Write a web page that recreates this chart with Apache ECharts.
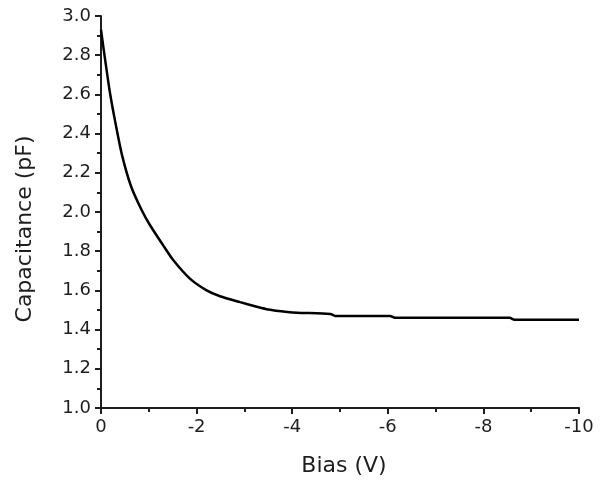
<!DOCTYPE html>
<html>
<head>
<meta charset="utf-8">
<script src="https://cdn.jsdelivr.net/npm/echarts@6/dist/echarts.min.js"></script>
<style>html,body{margin:0;padding:0;background:#fff;}#c{width:606px;height:487px;}</style>
</head>
<body>
<div id="c"></div>
<script>
var biasV = [0, -0.05, -0.18, -0.29, -0.44, -0.63, -0.85, -1.02, -1.3, -1.51, -1.86, -2.21, -2.49, -2.91, -3.26, -3.5, -3.9, -4.1, -4.8, -4.9, -6.05, -6.15, -8.55, -8.65, -10];
var capPF = [2.93, 2.84, 2.62, 2.47, 2.29, 2.13, 2.01, 1.935, 1.83, 1.755, 1.66, 1.60, 1.57, 1.54, 1.517, 1.503, 1.49, 1.486, 1.48, 1.47, 1.47, 1.46, 1.46, 1.45, 1.45];
var xLabel = 'Bias (V)';
var yLabel = 'Capacitance (pF)';

var pts = biasV.map(function(v, i){ return [v, capPF[i]]; });
var font = 'DejaVu Sans, sans-serif';
var ink = '#1e1e1e';
var chart = echarts.init(document.getElementById('c'), null, {renderer:'canvas'});
chart.setOption({
  animation: false,
  backgroundColor: '#fff',
  grid: {left: 101, right: 27, top: 16, bottom: 79},
  xAxis: {
    type: 'value', min: -10, max: 0, interval: 2, inverse: true,
    name: xLabel, nameLocation: 'middle', nameGap: 47,
    nameTextStyle: {fontFamily: font, fontSize: 22, color: ink, padding: [0, 0, 0, 8]},
    axisLine: {show: true, onZero: false, lineStyle: {color: ink, width: 2}},
    axisTick: {show: true, inside: false, length: 6, lineStyle: {color: ink, width: 2}},
    minorTick: {show: true, splitNumber: 2, length: 4, lineStyle: {color: ink, width: 2}},
    axisLabel: {fontFamily: font, fontSize: 18, color: ink, margin: 10, formatter: function(v){ return String(v); }},
    splitLine: {show: false}
  },
  yAxis: {
    type: 'value', min: 1, max: 3, interval: 0.2,
    name: yLabel, nameLocation: 'middle', nameGap: 65,
    nameTextStyle: {fontFamily: font, fontSize: 22, color: ink, padding: [0, 34, 0, 0]},
    axisLine: {show: true, onZero: false, lineStyle: {color: ink, width: 2}},
    axisTick: {show: true, inside: false, length: 6, lineStyle: {color: ink, width: 2}},
    minorTick: {show: true, splitNumber: 2, length: 4, lineStyle: {color: ink, width: 2}},
    axisLabel: {fontFamily: font, fontSize: 18, color: ink, margin: 10, formatter: function(v){ return v.toFixed(1); }},
    splitLine: {show: false}
  },
  series: [{
    type: 'line', data: pts, showSymbol: false, smooth: 0.25,
    lineStyle: {color: '#000', width: 2.5}
  }]
});
</script>
</body>
</html>
